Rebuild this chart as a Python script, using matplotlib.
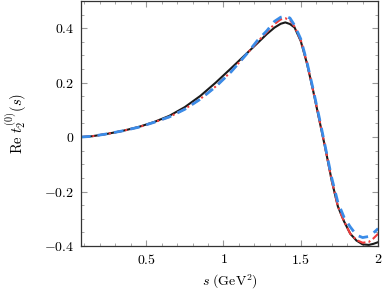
import numpy as np
import matplotlib.pyplot as plt
from matplotlib.ticker import MultipleLocator, FixedLocator

plt.rcParams.update({'font.size': 10, 'mathtext.fontset': 'cm',
                     'font.family': 'serif', 'font.serif': ['cmr10', 'DejaVu Serif'],
                     'axes.formatter.use_mathtext': True})

s = [0.078, 0.15, 0.25, 0.35, 0.45, 0.55, 0.65, 0.75, 0.85, 0.95, 1.05, 1.15,
     1.22, 1.28, 1.33, 1.37, 1.40, 1.43, 1.46, 1.50, 1.54, 1.58, 1.62, 1.66,
     1.70, 1.74, 1.78, 1.82, 1.86, 1.90, 1.94, 1.97, 2.0]

# solid black
t_black = [0, 0.003, 0.012, 0.023, 0.037, 0.055, 0.078, 0.11, 0.151, 0.2, 0.253, 0.307,
           0.345, 0.378, 0.402, 0.416, 0.421, 0.415, 0.402, 0.352, 0.27, 0.17, 0.062, -0.045,
           -0.16, -0.255, -0.31, -0.355, -0.38, -0.394, -0.396, -0.392, -0.386]
# red dash-dot
t_red = [0, 0.003, 0.012, 0.023, 0.036, 0.054, 0.074, 0.103, 0.14, 0.186, 0.241, 0.305,
         0.35, 0.385, 0.415, 0.432, 0.436, 0.43, 0.405, 0.355, 0.272, 0.17, 0.064, -0.045,
         -0.16, -0.255, -0.31, -0.355, -0.378, -0.388, -0.385, -0.372, -0.355]
# blue dashed
t_blue = [0, 0.003, 0.012, 0.023, 0.036, 0.054, 0.074, 0.102, 0.139, 0.185, 0.24, 0.305,
          0.355, 0.39, 0.425, 0.44, 0.444, 0.437, 0.41, 0.36, 0.275, 0.175, 0.07, -0.04,
          -0.15, -0.24, -0.295, -0.33, -0.36, -0.369, -0.365, -0.352, -0.336]

xticks = [0.5, 1, 1.5, 2]
xticklabels = ['0.5', '1', '1.5', '2']
yticks = [-0.4, -0.2, 0, 0.2, 0.4]
yticklabels = ['$-0.4$', '$-0.2$', '$0$', '$0.2$', '$0.4$']

fig = plt.figure(figsize=(3.89, 3.0), dpi=100)
ax = fig.add_axes([0.208, 0.18, 0.764, 0.817])

ax.plot(s, t_black, color='#1a1a1a', lw=1.5)
ax.plot(s, t_red, color='#f03c3c', lw=1.5, linestyle=(0, (4, 1.5, 1, 1.5)))
ax.plot(s, t_blue, color='#3a8ce8', lw=2.0, linestyle=(0, (3.5, 2.5)))

ax.set_xlim(0.078, 2.0)
ax.set_ylim(-0.4, 0.5)
ax.xaxis.set_major_locator(FixedLocator(xticks))
ax.set_xticklabels(['$' + t + '$' for t in xticklabels])
ax.yaxis.set_major_locator(FixedLocator(yticks))
ax.set_yticklabels(yticklabels)
ax.xaxis.set_minor_locator(MultipleLocator(0.1))
ax.yaxis.set_minor_locator(MultipleLocator(0.05))
ax.tick_params(which='both', direction='in', top=True, right=True, color='#999999')
ax.tick_params(which='major', length=4, pad=5)
ax.tick_params(which='minor', length=2.5)
for sp in ax.spines.values():
    sp.set_linewidth(0.9)
    sp.set_color('#333333')

ax.set_xlabel(r'$s\ (\mathrm{GeV}^2)$', labelpad=4)
ax.set_ylabel(r'$\mathrm{Re}\ t_2^{(0)}(s)$', labelpad=11, fontsize=10.5)

fig.savefig('out.png', dpi=100)
